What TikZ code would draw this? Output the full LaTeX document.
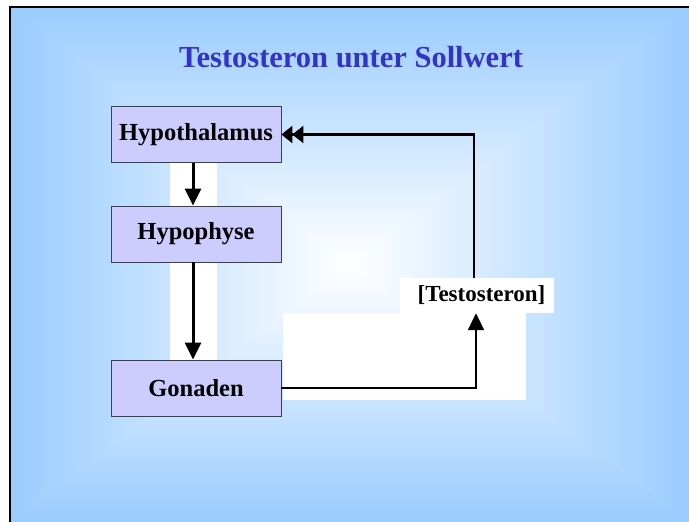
\documentclass[tikz,border=0pt]{standalone}
\usepackage{fontspec}
\setmainfont{Liberation Serif}
\usetikzlibrary{arrows.meta}
\definecolor{bgblue}{HTML}{99CCFF}
\definecolor{boxfill}{HTML}{CCCCFF}
\definecolor{titleblue}{HTML}{3333CC}
\definecolor{boxline}{HTML}{404040}
\begin{document}
\begin{tikzpicture}[x=1pt,y=-1pt,
  box/.style={draw=boxline, line width=0.8pt, fill=boxfill, minimum width=170pt,
    minimum height=56pt, inner sep=0pt, font=\fontsize{24.5}{29}\selectfont\bfseries},
  strip/.style={fill=white, draw=none},
  labelbox/.style={fill=white, draw=none, minimum width=154pt, minimum height=35pt,
    inner sep=0pt, font=\fontsize{23}{27}\selectfont\bfseries},
  titletext/.style={text=titleblue, inner sep=0pt, font=\fontsize{30.5}{36}\selectfont\bfseries},
  flow/.style={line width=3pt, -{Triangle[length=17pt,width=16pt]}},
  feed/.style={line width=2.5pt},
]
\useasboundingbox (0,0) rectangle (689,522);
% background: rectangular gradient from centre
\begin{scope}
  \clip (11,7) -- (11,522) -- (350,264.5) -- cycle;
  \shade[left color=bgblue, right color=white] (11,7) rectangle (350,522);
\end{scope}
\begin{scope}
  \clip (689,7) -- (689,522) -- (350,264.5) -- cycle;
  \shade[left color=white, right color=bgblue] (350,7) rectangle (689,522);
\end{scope}
\begin{scope}
  \clip (6,7) -- (694,7) -- (350,264.5) -- cycle;
  \shade[top color=bgblue, bottom color=white] (11,7) rectangle (689,264.5);
\end{scope}
\begin{scope}
  \clip (6,522) -- (694,522) -- (350,264.5) -- cycle;
  \shade[top color=white, bottom color=bgblue] (11,264.5) rectangle (689,522);
\end{scope}
\draw[line width=2pt] (10,522) -- (10,6.5) -- (689,6.5);
% white text-box backgrounds
\fill[strip] (170,163) rectangle (217,206);
\fill[strip] (170,262) rectangle (217,360);
\fill[strip] (283,313) rectangle (526,400);
% title
\node[titletext, anchor=base] (title) at (351,67) {Testosteron unter Sollwert};
% boxes
\node[box] (hyp) at (196,134.5) {Hypothalamus};
\node[box] (hyph) at (196,234) {Hypophyse};
\node[box] (gon) at (196,388) {Gonaden};
\node[labelbox] (test) at (477,295.5) {\hspace*{9pt}[Testosteron]};
% connectors
\draw[flow] ([xshift=-3pt]hyp.south) -- ([xshift=-3pt]hyph.north);
\draw[flow] ([xshift=-3pt]hyph.south) -- ([xshift=-3pt]gon.north);
\draw[line width=2pt, -{Triangle[length=17pt,width=16pt]}] (gon.east) -| ([xshift=-1pt]test.south);
\draw[feed, -{Triangle[length=11pt,width=17pt] Triangle[length=11pt,width=17pt]}]
  ([xshift=-3pt]test.north) |- (hyp.east);
\end{tikzpicture}
\end{document}
